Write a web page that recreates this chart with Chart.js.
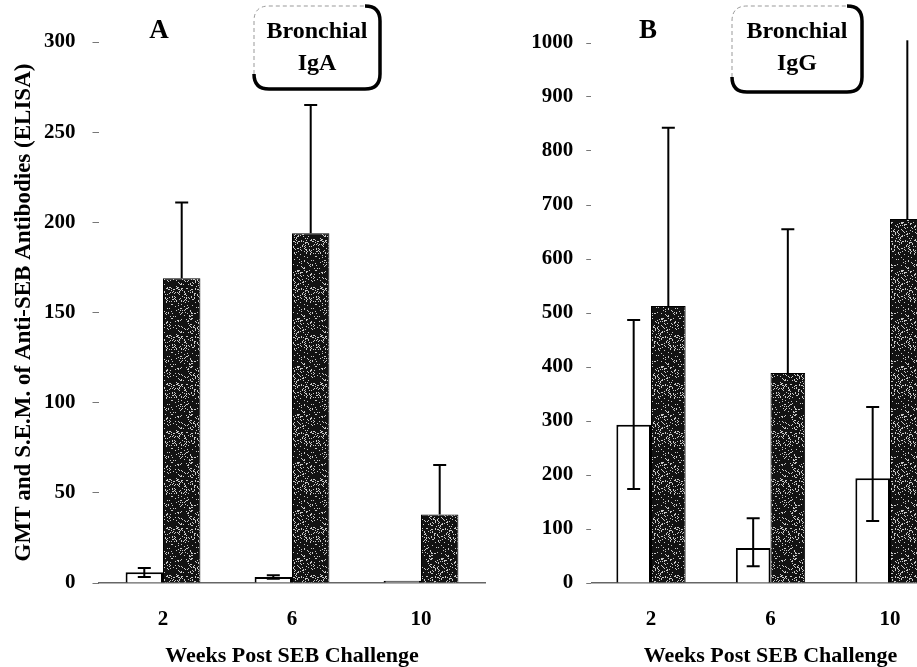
<!DOCTYPE html>
<html><head><meta charset="utf-8">
<script src="https://cdn.jsdelivr.net/npm/chart.js@4"></script>
<style>
html,body{margin:0;padding:0;background:#fff;overflow:hidden;width:917px;height:667px;}
#wrapA{position:absolute;left:0;top:0;width:500px;height:671px;}
#wrapB{position:absolute;left:460px;top:0;width:500px;height:671px;}
</style></head>
<body>
<div id="wrapA"><canvas id="cA" width="500" height="671"></canvas></div>
<div id="wrapB"><canvas id="cB" width="500" height="671"></canvas></div>
<script>
// ---- data ----
const weeks = ['2', '6', '10'];
// Panel A: Bronchial IgA
const igaControl = [6, 3.3, 1.2];
const igaControlHigh = [8.3, 4.3, null];
const igaControlLow = [3.3, 2.3, null];
const igaSEB = [169, 194, 38];
const igaSEBHigh = [211, 265, 65.5];
const igaTicks = [0, 50, 100, 150, 200, 250, 300];
// Panel B: Bronchial IgG
const iggControl = [293, 65, 194];
const iggControlHigh = [487, 120, 326];
const iggControlLow = [174, 31, 115];
const iggSEB = [513, 389, 674];
const iggSEBHigh = [843, 655, 1005];
const iggTicks = [0, 100, 200, 300, 400, 500, 600, 700, 800, 900, 1000];

const SERIF = '"Liberation Serif","Times New Roman",serif';

// speckled dark fill (deterministic texture)
function makePattern() {
  const c = document.createElement('canvas');
  c.width = 48; c.height = 48;
  const x = c.getContext('2d');
  const img = x.createImageData(48, 48);
  for (let i = 0; i < 48 * 48; i++) {
    const h = (Math.imul(i + 17, 2654435761) >>> 0) ^ ((i * 97) >>> 0);
    const v = ((h >>> 8) % 100) < 14 ? 200 : 18;
    img.data[i * 4] = v; img.data[i * 4 + 1] = v; img.data[i * 4 + 2] = v; img.data[i * 4 + 3] = 255;
  }
  x.putImageData(img, 0, 0);
  return x.createPattern(c, 'repeat');
}
const darkFill = makePattern();

const errorBars = {
  id: 'errorBars',
  afterDatasetsDraw(chart) {
    const ctx = chart.ctx;
    const ys = chart.scales.y;
    ctx.save();
    ctx.strokeStyle = '#000';
    ctx.lineWidth = 2;
    chart.data.datasets.forEach((ds, di) => {
      const meta = chart.getDatasetMeta(di);
      meta.data.forEach((bar, j) => {
        const hi = ds.errHigh ? ds.errHigh[j] : null;
        if (hi == null) return;
        const lo = ds.errLow ? ds.errLow[j] : null;
        const yHi = Math.max(ys.getPixelForValue(hi), 40);
        const yLo = lo != null ? ys.getPixelForValue(lo) : bar.y;
        ctx.beginPath();
        ctx.moveTo(bar.x, yLo); ctx.lineTo(bar.x, yHi);
        if (hi <= ys.max) { ctx.moveTo(bar.x - 6.5, yHi); ctx.lineTo(bar.x + 6.5, yHi); }
        if (lo != null) { ctx.moveTo(bar.x - 6.5, yLo); ctx.lineTo(bar.x + 6.5, yLo); }
        ctx.stroke();
      });
    });
    ctx.restore();
  }
};

const labelBox = {
  id: 'labelBox',
  afterDraw(chart, args, o) {
    const ctx = chart.ctx;
    ctx.save();
    // panel letter
    ctx.fillStyle = '#000';
    ctx.font = 'bold 27px ' + SERIF;
    ctx.textAlign = 'center'; ctx.textBaseline = 'middle';
    ctx.fillText(o.letter, o.letterX, 31);
    // box
    const L = o.box[0], T = o.box[1], R = o.box[2], B = o.box[3], r = 15;
    ctx.setLineDash([4, 3]);
    ctx.strokeStyle = '#999'; ctx.lineWidth = 1;
    ctx.beginPath();
    ctx.moveTo(L, B - r); ctx.lineTo(L, T + r); ctx.quadraticCurveTo(L, T, L + r, T); ctx.lineTo(R - r, T);
    ctx.stroke();
    ctx.setLineDash([]);
    ctx.strokeStyle = '#000'; ctx.lineWidth = 3.5;
    ctx.beginPath();
    ctx.moveTo(R - r, T); ctx.quadraticCurveTo(R, T, R, T + r); ctx.lineTo(R, B - r);
    ctx.quadraticCurveTo(R, B, R - r, B); ctx.lineTo(L + r, B); ctx.quadraticCurveTo(L, B, L, B - r);
    ctx.stroke();
    ctx.font = 'bold 24px ' + SERIF;
    ctx.fillText('Bronchial', (L + R) / 2, T + 26);
    ctx.fillText(o.sub, (L + R) / 2, T + 58);
    ctx.restore();
  }
};

function makeChart(id, ctrl, ctrlHi, ctrlLo, seb, sebHi, ticks, yMax, opts) {
  return new Chart(document.getElementById(id), {
    type: 'bar',
    data: {
      labels: weeks,
      datasets: [
        { label: 'Control', data: ctrl, errHigh: ctrlHi, errLow: ctrlLo,
          backgroundColor: '#fff', borderColor: '#000', borderWidth: 2,
          barPercentage: 1, categoryPercentage: 0.58 },
        { label: 'SEB', data: seb, errHigh: sebHi,
          backgroundColor: darkFill, borderColor: '#000', borderWidth: 1,
          barPercentage: 1, categoryPercentage: 0.58 }
      ]
    },
    options: {
      responsive: false, animation: false,
      layout: { padding: { top: opts.top, right: opts.right, bottom: 0, left: 0 } },
      plugins: { legend: { display: false }, tooltip: { enabled: false },
        labelBox: opts.box },
      scales: {
        x: {
          grid: { display: false },
          border: { display: true, color: '#666', width: 1.5, dash: [6, 4] },
          ticks: { color: '#000', font: { family: SERIF, weight: 'bold', size: 21 }, padding: 16 },
          title: { display: true, text: 'Weeks Post SEB Challenge', color: '#000',
            font: { family: SERIF, weight: 'bold', size: 22 }, padding: { top: 4, bottom: 1 } },
          afterFit(s) { s.height = 88; }
        },
        y: {
          min: 0, max: yMax,
          afterBuildTicks(s) { s.ticks = ticks.map(v => ({ value: v })); },
          grid: { drawOnChartArea: false, drawTicks: true, tickLength: opts.tickLen, color: '#777' },
          border: { display: false },
          ticks: { color: '#000', font: { family: SERIF, weight: 'bold', size: 21 }, padding: opts.tickPad,
            callback: v => String(v) },
          title: { display: opts.yTitle != null, text: opts.yTitle || '', color: '#000',
            font: { family: SERIF, weight: 'bold', size: 23 }, padding: { top: 10, bottom: 0 } },
          afterFit(s) { s.width = opts.yWidth; }
        }
      }
    },
    plugins: [errorBars, labelBox]
  });
}

makeChart('cA', igaControl, igaControlHigh, igaControlLow, igaSEB, igaSEBHigh, igaTicks, 300, {
  top: 42, right: 14.5, yWidth: 98.5, tickLen: 6, tickPad: 17,
  yTitle: 'GMT and S.E.M. of Anti-SEB Antibodies (ELISA)',
  box: { letter: 'A', letterX: 159, box: [254, 6, 380, 89], sub: 'IgA' }
});
makeChart('cB', iggControl, iggControlHigh, iggControlLow, iggSEB, iggSEBHigh, iggTicks, 1000, {
  top: 43, right: 10.25, yWidth: 131.25, tickLen: 5, tickPad: 13, yTitle: null,
  box: { letter: 'B', letterX: 188, box: [272, 6, 402, 92], sub: 'IgG' }
});
</script>
</body></html>
